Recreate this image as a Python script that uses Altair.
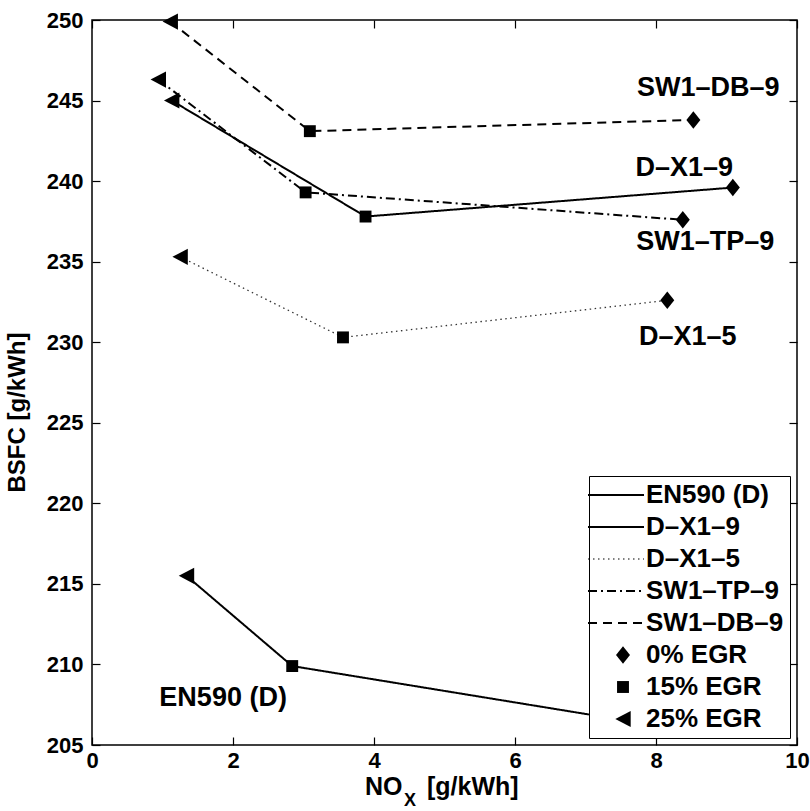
import altair as alt
import pandas as pd

FONT = "Liberation Sans"

# Series names (fuel / injector setting) and EGR levels
series_names = ["EN590 (D)", "D–X1–9", "D–X1–5", "SW1–TP–9", "SW1–DB–9"]
egr_levels = ["0% EGR", "15% EGR", "25% EGR"]

# Operating points per series, ordered 25% / 15% / 0% EGR
point_egr = ["25% EGR", "15% EGR", "0% EGR"]
en590_nox = [1.34, 2.84, 8.30]
en590_bsfc = [215.5, 209.9, 206.0]
dx19_nox = [1.13, 3.88, 9.09]
dx19_bsfc = [245.0, 237.8, 239.6]
dx15_nox = [1.25, 3.56, 8.16]
dx15_bsfc = [235.3, 230.3, 232.6]
sw1tp9_nox = [0.94, 3.03, 8.38]
sw1tp9_bsfc = [246.3, 239.3, 237.6]
sw1db9_nox = [1.11, 3.09, 8.53]
sw1db9_bsfc = [249.9, 243.1, 243.8]

# Series labels written next to the curves
label_text = ["SW1–DB–9", "D–X1–9", "SW1–TP–9", "D–X1–5", "EN590 (D)"]
label_nox = [8.74, 8.40, 8.70, 8.45, 1.86]
label_bsfc = [245.8, 240.8, 236.2, 230.3, 207.9]

x_ticks = [0, 2, 4, 6, 8, 10]
y_ticks = [205, 210, 215, 220, 225, 230, 235, 240, 245, 250]

rows = []
for name, xs, ys in [
    ("EN590 (D)", en590_nox, en590_bsfc),
    ("D–X1–9", dx19_nox, dx19_bsfc),
    ("D–X1–5", dx15_nox, dx15_bsfc),
    ("SW1–TP–9", sw1tp9_nox, sw1tp9_bsfc),
    ("SW1–DB–9", sw1db9_nox, sw1db9_bsfc),
]:
    for egr, xv, yv in zip(point_egr, xs, ys):
        rows.append({"series": name, "egr": egr, "nox": xv, "bsfc": yv})
df = pd.DataFrame(rows)
labels = pd.DataFrame({"label": label_text, "nox": label_nox, "bsfc": label_bsfc})

# Line styles (on/off lengths in px)
solid = [1, 0]
dotted = [1.5, 3.5]
dashdot = [9, 4, 2, 4]
dashed = [9, 6]
dash_range = [solid, solid, dotted, dashdot, dashed, solid, solid, solid]

MARK_SIZE = 196            # symbol area; custom paths are scaled by sqrt(size)/2
UNIT = MARK_SIZE ** 0.5 / 2


def legend_line(pattern, half_thick=1.0, x0=-35.0, x1=21.0):
    """Filled path drawing a (dashed) line sample for a legend entry."""
    parts = []
    x, i = x0, 0
    while x < x1:
        seg = pattern[i % len(pattern)]
        if i % 2 == 0 and seg > 0:
            a, b = x, min(x + seg, x1)
            parts.append(
                f"M{a/UNIT:.3f},{-half_thick/UNIT:.3f}L{b/UNIT:.3f},{-half_thick/UNIT:.3f}"
                f"L{b/UNIT:.3f},{half_thick/UNIT:.3f}L{a/UNIT:.3f},{half_thick/UNIT:.3f}Z"
            )
        x += seg if seg > 0 else (x1 - x0)
        i += 1
    return "".join(parts)


shape_range = [
    legend_line([60, 0]),
    legend_line([60, 0]),
    legend_line(dotted, half_thick=0.6),
    legend_line(dashdot),
    legend_line(dashed),
    "M0,-1.25L1,0L0,1.25L-1,0Z",
    "M-0.85,-0.85L0.85,-0.85L0.85,0.85L-0.85,0.85Z",
    "M-1.1,0L1.1,-1.15L1.1,1.15Z",
]

# One key list shared by the line-style and marker scales -> one legend
legend_keys = series_names + egr_levels

x_scale = alt.Scale(domain=[0, 10], nice=False, zero=False)
y_scale = alt.Scale(domain=[205, 250], nice=False, zero=False)
dash_scale = alt.Scale(domain=legend_keys, range=dash_range)
shape_scale = alt.Scale(domain=legend_keys, range=shape_range)

tick_label = dict(labelFont=FONT, labelFontSize=22, labelFontWeight="bold",
                  labelColor="black", labelFlush=False, labelOverlap=False,
                  tickColor="black", tickWidth=1.2, tickSize=8, offset=-8,
                  domain=False, grid=False)

x_axis = alt.Axis(values=x_ticks, orient="bottom", title=None, labelPadding=5, **tick_label)
y_axis = alt.Axis(values=y_ticks, orient="left", title="BSFC [g/kWh]",
                  titleFont=FONT, titleFontSize=24, titleFontWeight="bold",
                  titleColor="black", titlePadding=17, titleY=392,
                  labelPadding=9, **tick_label)

inner_ticks = dict(labels=False, domain=False, grid=False, title=None,
                   tickColor="black", tickWidth=1.2, tickSize=8, offset=-8)
x_axis_top = alt.Axis(values=x_ticks, orient="top", **inner_ticks)
y_axis_right = alt.Axis(values=y_ticks, orient="right", **inner_ticks)

legend = alt.Legend(
    title=None, orient="none", legendX=497, legendY=456,
    fillColor="white", strokeColor="black", padding=6,
    labelFont=FONT, labelFontSize=26, labelFontWeight="bold", labelColor="black",
    labelLimit=400, labelOffset=10, symbolOffset=15, rowPadding=6,
    symbolSize=MARK_SIZE, symbolStrokeWidth=0, symbolFillColor="black",
    symbolStrokeColor="black", symbolOpacity=1,
)

base = alt.Chart(df)

lines_main = base.transform_filter(alt.datum.series != "D–X1–5").mark_line(
    color="black", strokeWidth=2
).encode(
    x=alt.X("nox:Q", scale=x_scale, axis=x_axis),
    y=alt.Y("bsfc:Q", scale=y_scale, axis=y_axis),
    strokeDash=alt.StrokeDash("series:N", scale=dash_scale, legend=legend),
    detail="series:N",
)

lines_dotted = base.transform_filter(alt.datum.series == "D–X1–5").mark_line(
    color="#333333", strokeWidth=1.3
).encode(
    x=alt.X("nox:Q", axis=None),
    y=alt.Y("bsfc:Q", axis=None),
    strokeDash=alt.StrokeDash("series:N", scale=dash_scale, legend=legend),
    detail="series:N",
)

points = base.mark_point(filled=True, size=MARK_SIZE, opacity=1, color="black").encode(
    x=alt.X("nox:Q", axis=None),
    y=alt.Y("bsfc:Q", axis=None),
    shape=alt.Shape("egr:N", scale=shape_scale, legend=legend),
)

texts = alt.Chart(labels).mark_text(
    font=FONT, fontSize=27, fontWeight="bold", color="black",
    align="center", baseline="middle"
).encode(
    x=alt.X("nox:Q", axis=x_axis_top),
    y=alt.Y("bsfc:Q", axis=y_axis_right),
    text="label:N",
)

# x-axis title with a subscript X
title_style = dict(font=FONT, fontWeight="bold", color="black", align="left",
                   baseline="alphabetic")
t_no = alt.Chart(pd.DataFrame({"t": ["NO"]})).mark_text(fontSize=25, **title_style).encode(
    text="t:N", x=alt.value(273), y=alt.value(775))
t_sub = alt.Chart(pd.DataFrame({"t": ["X"]})).mark_text(fontSize=18, **title_style).encode(
    text="t:N", x=alt.value(312), y=alt.value(786))
t_unit = alt.Chart(pd.DataFrame({"t": ["[g/kWh]"]})).mark_text(fontSize=25, **title_style).encode(
    text="t:N", x=alt.value(335), y=alt.value(775))

chart = alt.layer(
    lines_main, lines_dotted, points, texts, t_no, t_sub, t_unit
).resolve_axis(
    x="independent", y="independent"
).properties(
    width=705, height=725,
    autosize=alt.AutoSizeParams(type="none"),
    padding={"left": 92, "top": 20, "right": 13, "bottom": 66},
    background="white",
).configure_view(
    stroke="black", strokeWidth=1.5
)

chart.save("out.html", embed_options={"renderer": "svg", "actions": False})
